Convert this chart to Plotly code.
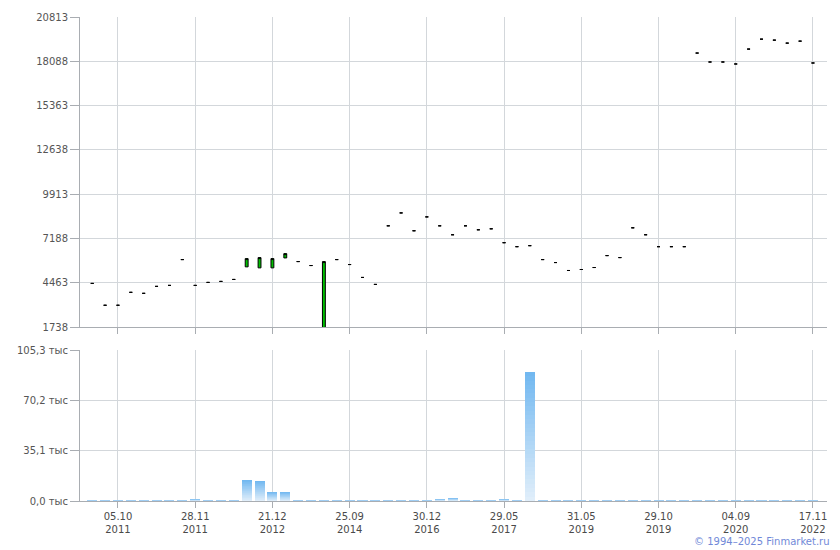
import plotly.graph_objects as go

# ---- data ----
n_candles = 57
idx = list(range(n_candles))

opens = [4425, 3082, 3082, 3876, 3815, 4242, 4303, 5891, 4303, 4487,
         4548, 4670, 5444, 5382, 5382, 5993, 5769, 5525, 1600, 5891,
         5586, 4792, 4364, 7968, 8762, 7663, 8518, 7968, 7418, 7968,
         7724, 7785, 6930, 6685, 6747, 5891, 5708, 5220, 5281, 5403,
         6136, 6014, 7846, 7418, 6685, 6685, 6685, 18596, 18046, 18046,
         17924, 18840, 19451, 19390, 19207, 19329, 17985]
closes = list(opens)
closes[12] = 5952
closes[13] = 6014
closes[14] = 5952
closes[15] = 6258
closes[18] = 5769
highs = [max(o, c) for o, c in zip(opens, closes)]
lows = [min(o, c) for o, c in zip(opens, closes)]

volumes = [0.6] * n_candles  # thousands
volumes[8] = 1.4
volumes[12] = 14.5
volumes[13] = 13.9
volumes[14] = 6.2
volumes[15] = 6.2
volumes[27] = 1.4
volumes[28] = 2.1
volumes[32] = 1.4
volumes[34] = 90.0

tick_pos = [2, 8, 14, 20, 26, 32, 38, 44, 50, 56]
tick_labels = ["05.10<br>2011", "28.11<br>2011", "21.12<br>2012", "25.09<br>2014",
               "30.12<br>2016", "29.05<br>2017", "31.05<br>2019", "29.10<br>2019",
               "04.09<br>2020", "17.11<br>2022"]

price_ticks = [1738, 4463, 7188, 9913, 12638, 15363, 18088, 20813]
vol_ticks = [0, 35.1, 70.2, 105.3]
vol_tick_labels = ["0,0 тыс", "35,1 тыс", "70,2 тыс", "105,3 тыс"]

# ---- styling ----
grid_c = "#d3d7db"
axis_c = "#a9adb2"
text_c = "#555555"
font = dict(family="DejaVu Sans", size=10, color=text_c)

fig = go.Figure()

fig.add_trace(go.Candlestick(
    x=idx, open=opens, high=highs, low=lows, close=closes,
    increasing=dict(line=dict(color="black", width=1), fillcolor="#00c000"),
    decreasing=dict(line=dict(color="black", width=1), fillcolor="#00c000"),
    whiskerwidth=0, xaxis="x", yaxis="y", showlegend=False, hoverinfo="skip"))

# volume bars with a vertical gradient (stacked equal slices of each bar)
N = 30
top_rgb = (112, 183, 240)
bot_rgb = (226, 239, 250)
for k in range(N):
    t = (k + 0.5) / N
    r = round(bot_rgb[0] + (top_rgb[0] - bot_rgb[0]) * t)
    g = round(bot_rgb[1] + (top_rgb[1] - bot_rgb[1]) * t)
    b = round(bot_rgb[2] + (top_rgb[2] - bot_rgb[2]) * t)
    fig.add_trace(go.Bar(
        x=idx, y=[v / N for v in volumes],
        marker=dict(color=f"rgb({r},{g},{b})", line=dict(width=0)),
        xaxis="x2", yaxis="y2", showlegend=False, hoverinfo="skip"))

xr = [-0.95, 57.09]
common_x = dict(range=xr, tickmode="array", tickvals=tick_pos, showgrid=True,
                gridcolor=grid_c, gridwidth=1, showline=True, linecolor=axis_c,
                linewidth=1, ticks="outside", ticklen=6, tickcolor=axis_c,
                zeroline=False, fixedrange=True)

fig.update_layout(
    width=840, height=550,
    margin=dict(l=80, r=13, t=14, b=49),
    paper_bgcolor="white", plot_bgcolor="white",
    font=font,
    barmode="stack", bargap=0.22, boxgap=0.68,
    xaxis=dict(**common_x, anchor="y", showticklabels=False,
               rangeslider=dict(visible=False)),
    xaxis2=dict(**common_x, anchor="y2", matches="x", ticktext=tick_labels,
                showticklabels=True, tickfont=dict(family="DejaVu Sans", size=10, color="#4a4a4a")),
    yaxis=dict(domain=[0.3593, 1], range=[1738, 20813.5], tickmode="array",
               tickvals=price_ticks, ticktext=[str(v) for v in price_ticks],
               showgrid=True, gridcolor=grid_c, showline=True, linecolor=axis_c,
               ticks="outside", ticklen=9, tickcolor=axis_c, zeroline=False,
               fixedrange=True),
    yaxis2=dict(domain=[0, 0.3121], range=[0, 105.35], tickmode="array",
                tickvals=vol_ticks, ticktext=vol_tick_labels,
                showgrid=True, gridcolor=grid_c, showline=True, linecolor=axis_c,
                ticks="outside", ticklen=9, tickcolor=axis_c, zeroline=False,
                fixedrange=True),
    annotations=[dict(text="© 1994–2025 Finmarket.ru", xref="paper", yref="paper",
                      x=1, xshift=5, y=-0.084, xanchor="right", yanchor="middle",
                      showarrow=False,
                      font=dict(family="DejaVu Sans", size=10, color="#7189d8"))],
)

fig.write_html("out.html",
               config={"displayModeBar": False, "staticPlot": True},
               post_script="document.body.style.margin='0';document.body.style.padding='0';document.body.style.overflow='hidden';")
